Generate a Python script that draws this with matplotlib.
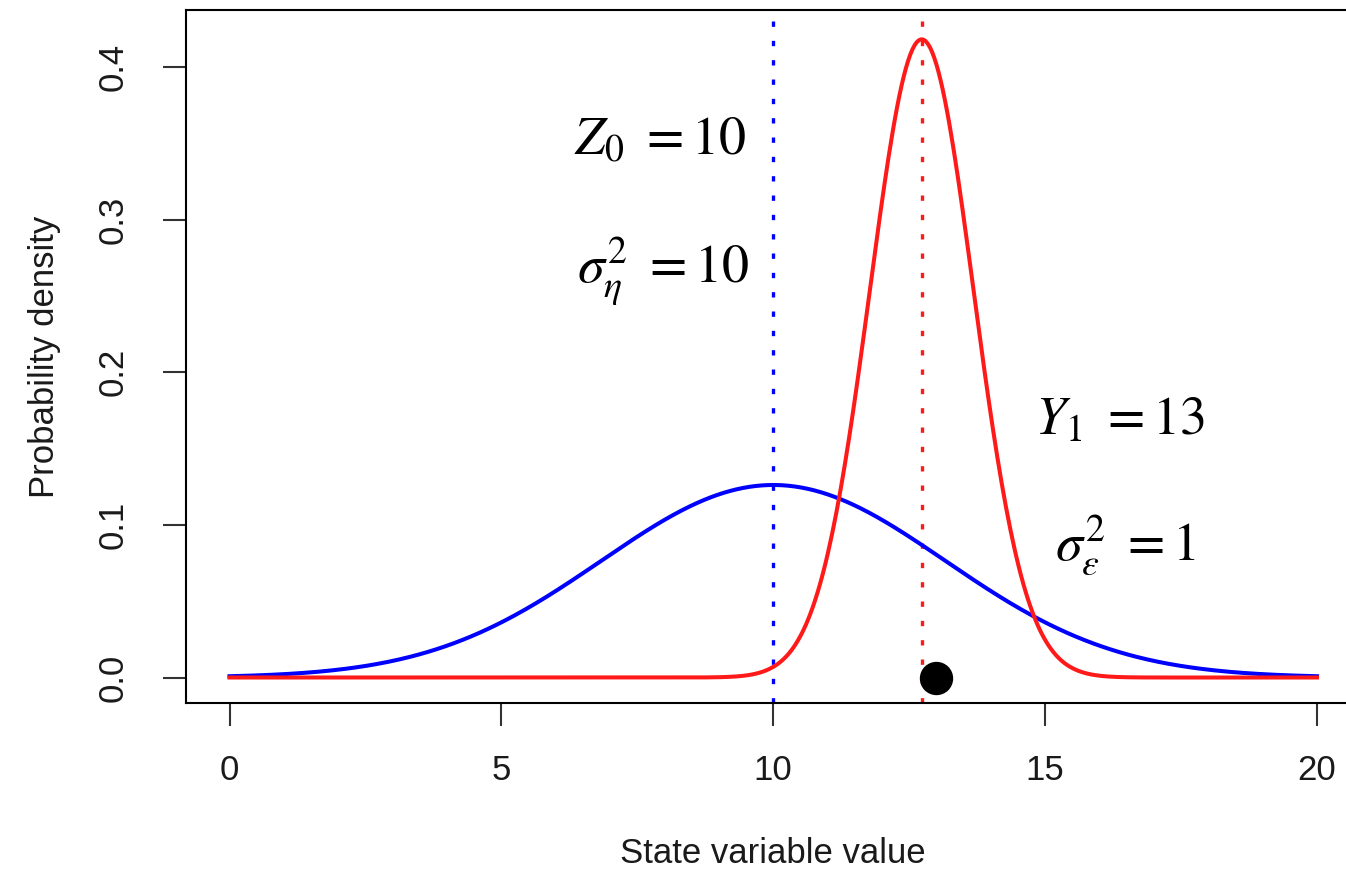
import numpy as np
from matplotlib import pyplot as plt

# Values
X_RANGE = [0, 20]
PRIOR_MEAN = 10.0        # Z_0
PRIOR_VAR = 10.0         # sigma_eta^2
OBS_VALUE = 13.0         # Y_1
OBS_VAR = 1.0            # sigma_eps^2
POST_MEAN = 12.73        # red curve peak / red dotted line
POST_VAR = 0.91          # red curve peak height ~0.418

X_TICKS = [0, 5, 10, 15, 20]
Y_TICKS = [0.0, 0.1, 0.2, 0.3, 0.4]
Y_TICK_LABELS = ["0.0", "0.1", "0.2", "0.3", "0.4"]

LABELS = [
    (r"$Z_0\ =10$", 7.92, 0.352),
    (r"$\sigma_\eta^2\ =10$", 7.98, 0.266),
    (r"$Y_1\ =13$", 16.38, 0.168),
    (r"$\sigma_\varepsilon^2\ =1$", 16.47, 0.087),
]


def normal_pdf(x, mean, var):
    return np.exp(-(x - mean) ** 2 / (2 * var)) / np.sqrt(2 * np.pi * var)


def main() -> None:
    plt.rcParams["font.family"] = ["Liberation Sans", "DejaVu Sans"]
    plt.rcParams["mathtext.fontset"] = "stix"

    fig = plt.figure(figsize=(13.46, 8.72), dpi=100)
    ax = fig.add_axes([186 / 1346, 1 - 703 / 872, 1174.5 / 1346, 693 / 872])

    xs = np.linspace(X_RANGE[0], X_RANGE[1], 501)
    ax.plot(xs, normal_pdf(xs, PRIOR_MEAN, PRIOR_VAR), color="#0000ff", lw=2.9, zorder=3)
    ax.plot(xs, normal_pdf(xs, POST_MEAN, POST_VAR), color="#ff1a1a", lw=2.9, zorder=3)

    ax.axvline(PRIOR_MEAN, color="#0000ff", lw=2.4, linestyle=(0, (1.6, 4.2)), zorder=2)
    ax.axvline(POST_MEAN, color="#ff1a1a", lw=2.4, linestyle=(0, (1.6, 4.2)), zorder=2)

    ax.plot([OBS_VALUE], [0], "o", color="black", markersize=23, zorder=4)

    for text, x, y in LABELS:
        ax.text(x, y, text, fontsize=39, ha="center", va="center")

    ax.set_xlim(-0.8, 20.8)
    ax.set_ylim(-0.0167, 0.4374)
    ax.set_xticks(X_TICKS)
    ax.set_yticks(Y_TICKS)
    ax.set_yticklabels(Y_TICK_LABELS, rotation=90, va="center")

    for spine in ax.spines.values():
        spine.set_linewidth(1.5)
        spine.set_color("black")

    ax.tick_params(axis="both", direction="out", length=16.5, width=1.5,
                   color="#333333", labelsize=25, labelcolor="#1a1a1a")
    ax.tick_params(axis="x", pad=20)
    ax.tick_params(axis="y", pad=24)

    ax.set_xlabel("State variable value", fontsize=25, color="#1a1a1a", labelpad=36)
    ax.set_ylabel("Probability density", fontsize=25, color="#1a1a1a", labelpad=26)

    fig.savefig("out.png", dpi=100)


if __name__ == "__main__":
    main()
